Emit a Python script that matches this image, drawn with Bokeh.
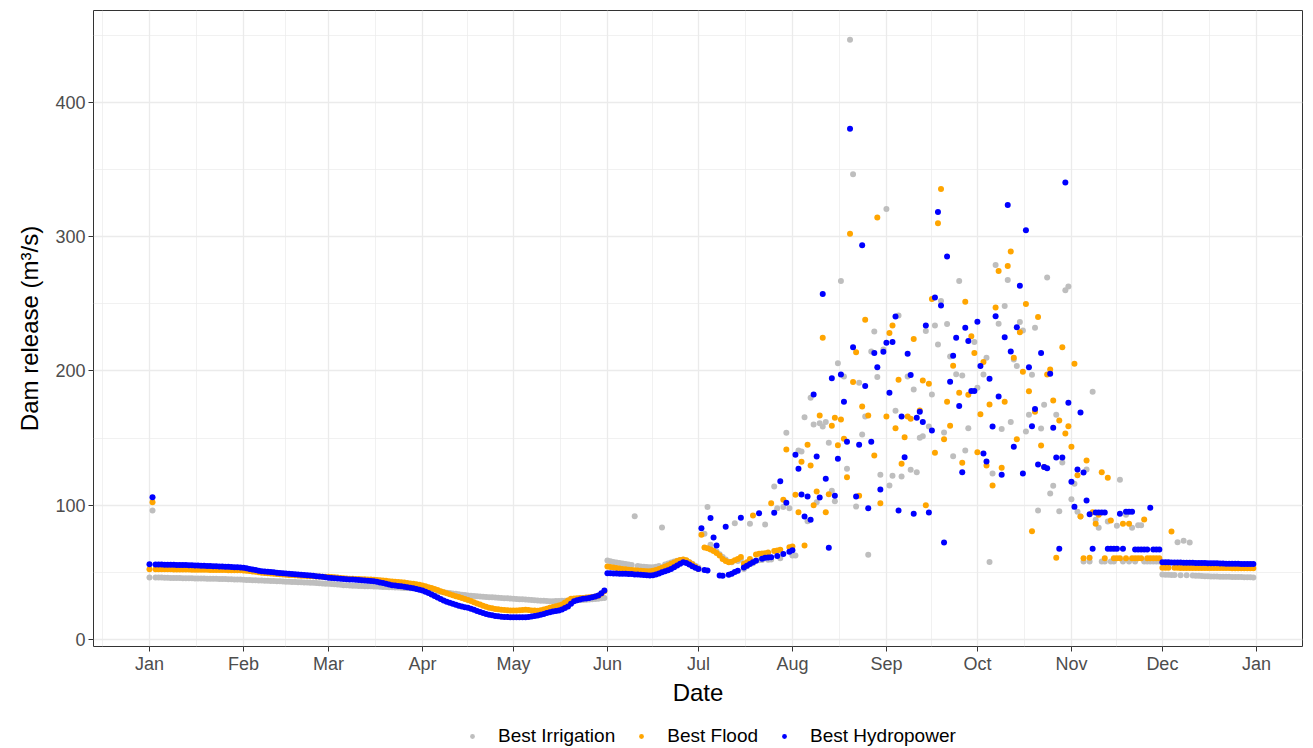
import numpy as np
from bokeh.plotting import figure
from bokeh.layouts import column
from bokeh.models import ColumnDataSource, FixedTicker, Legend, LegendItem, Range1d
from bokeh.embed import file_html
from bokeh.resources import INLINE

# ---- axis labels -----------------------------------------------------------
month_starts = [0, 31, 59, 90, 120, 151, 181, 212, 243, 273, 304, 334, 365]
month_names = ["Jan", "Feb", "Mar", "Apr", "May", "Jun", "Jul", "Aug",
               "Sep", "Oct", "Nov", "Dec", "Jan"]
y_ticks = [0, 100, 200, 300, 400]

series_names = ["Best Irrigation", "Best Flood", "Best Hydropower"]
series_colors = ["#BEBEBE", "#FFA500", "#0000FF"]

# ---- daily dam release (m3/s), Jan 1 .. May 31 -----------------------------
irr_jan_may = [
    46.2, 96.1,
    46.2, 46.1, 46.1, 46.0, 46.0, 45.9, 45.9, 45.8, 45.8,
    45.7, 45.7, 45.6, 45.6, 45.5, 45.5, 45.4, 45.4, 45.3, 45.3,
    45.2, 45.2, 45.1, 45.0, 45.0, 44.9, 44.8, 44.7, 44.7, 44.6,
    44.5, 44.4, 44.3, 44.2, 44.1, 44.0, 43.9, 43.8, 43.7, 43.6,
    43.5, 43.4, 43.3, 43.2, 43.1, 43.0, 42.9, 42.8, 42.7, 42.6,
    42.5, 42.4, 42.3, 42.2, 42.0, 41.9, 41.8, 41.6, 41.5, 41.3,
    41.1, 40.9, 40.7, 40.5, 40.4, 40.2, 40.1, 40.0, 39.9, 39.8,
    39.7, 39.6, 39.6, 39.5, 39.4, 39.3, 39.2, 39.1, 39.0, 38.9,
    38.8, 38.7, 38.5, 38.4, 38.3, 38.2, 38.1, 38.0, 37.9, 37.7,
    37.4, 37.0, 36.6, 36.2, 35.8, 35.5, 35.2, 34.9, 34.6, 34.3,
    34.0, 33.7, 33.4, 33.1, 32.8, 32.6, 32.4, 32.2, 32.0, 31.8,
    31.7, 31.5, 31.4, 31.2, 31.1, 31.0, 30.8, 30.7, 30.5, 30.3,
    30.2, 30.0, 29.9, 29.8, 29.6, 29.4, 29.2, 29.0, 28.9, 28.8,
    28.6, 28.5, 28.5, 28.6, 28.7, 28.8, 28.9, 29.0, 29.1, 29.2,
    29.3, 29.4, 29.5, 29.6, 29.8, 30.0, 30.2, 30.4, 30.7, 31.0,
]
flood_jan_may = [
    52.4, 102.3,
    52.4, 52.4, 52.4, 52.3, 52.3, 52.3, 52.2, 52.2, 52.2,
    52.1, 52.1, 52.1, 52.0, 52.0, 52.0, 51.9, 51.9, 51.9, 51.8,
    51.8, 51.8, 51.7, 51.7, 51.7, 51.6, 51.6, 51.5, 51.5, 51.5,
    51.4, 51.2, 51.0, 50.7, 50.4, 50.1, 49.8, 49.6, 49.4, 49.2,
    49.0, 48.8, 48.6, 48.4, 48.3, 48.1, 48.0, 47.8, 47.7, 47.5,
    47.4, 47.3, 47.2, 47.1, 47.0, 46.9, 46.8, 46.8, 46.7, 46.5,
    46.3, 46.1, 45.9, 45.7, 45.5, 45.3, 45.2, 45.1, 45.0, 44.9,
    44.8, 44.7, 44.6, 44.5, 44.3, 44.1, 43.9, 43.7, 43.4, 43.2,
    43.0, 42.9, 42.7, 42.4, 42.1, 41.8, 41.5, 41.1, 40.7, 40.2,
    39.6, 39.0, 38.3, 37.6, 36.9, 36.0, 35.2, 34.5, 33.8, 33.0,
    32.3, 31.6, 30.9, 30.2, 29.5, 28.6, 27.8, 26.9, 26.0, 25.2,
    24.4, 23.6, 23.2, 22.8, 22.5, 22.2, 22.0, 21.8, 21.7, 21.6,
    21.7, 21.8, 22.0, 22.1, 21.9, 21.7, 21.6, 21.5, 21.8, 22.3,
    22.9, 23.6, 24.2, 24.8, 25.4, 26.0, 27.5, 29.0, 30.3, 30.6,
    30.8, 30.9, 31.0, 31.2, 31.4, 31.7, 32.0, 32.5, 34.0, 36.0,
]
hydro_jan_may = [
    56.0, 106.0,
    55.9, 55.8, 55.8, 55.7, 55.7, 55.6, 55.6, 55.5, 55.5,
    55.4, 55.4, 55.3, 55.3, 55.2, 55.1, 55.0, 54.9, 54.8, 54.7,
    54.6, 54.5, 54.4, 54.3, 54.2, 54.1, 54.0, 53.9, 53.8, 53.6,
    53.4, 53.0, 52.6, 52.2, 51.7, 51.3, 50.9, 50.6, 50.4, 50.2,
    50.0, 49.8, 49.6, 49.4, 49.2, 49.0, 48.8, 48.6, 48.4, 48.2,
    48.0, 47.8, 47.6, 47.4, 47.2, 47.0, 46.7, 46.4, 46.0, 45.8,
    45.6, 45.4, 45.2, 45.0, 44.9, 44.7, 44.6, 44.5, 44.4, 44.2,
    44.0, 43.8, 43.6, 43.4, 43.0, 42.5, 42.0, 41.5, 41.0, 40.5,
    40.2, 39.9, 39.7, 39.3, 38.9, 38.5, 38.1, 37.6, 37.0, 36.5,
    35.6, 34.6, 33.5, 32.4, 31.2, 30.1, 29.0, 28.2, 27.4, 26.6,
    25.9, 25.2, 24.6, 24.0, 23.6, 22.9, 22.1, 21.3, 20.5, 19.7,
    19.0, 18.4, 18.0, 17.6, 17.3, 17.0, 16.8, 16.7, 16.6, 16.6,
    16.6, 16.6, 16.6, 16.6, 16.8, 17.1, 17.5, 17.9, 18.4, 19.0,
    19.7, 20.3, 20.8, 21.2, 21.6, 22.4, 23.5, 24.6, 26.6, 28.5,
    29.2, 29.8, 30.3, 30.6, 31.0, 31.5, 32.1, 32.8, 34.4, 36.5,
]

# ---- Jun 1 .. Nov 30 (None = no value shown) --------------------------------
irr_jun_nov = [
    58.8, 58.3, 57.8, 57.4, 57.0, 56.6, 56.2, 55.8, 55.4, 91.8,
    54.7, 54.4, 54.2, 54.0, 53.9, 53.9, 54.2, 54.7, 83.4, 55.8,
    56.6, 57.4, 58.1, 58.7, 59.2, 59.4, 58.8, 57.6, 56.4, 55.0, 53.6,
    None, 78.7, 98.6, 70.5, 66.5, 65.5,
    63.5, 61.5, 59.5, 58.0, 57.5, 86.6, 58.5, 59.5, 52.6, 54.5,
    86.2, 56.8, 58.8, 59.0, 59.2, 85.7, 59.4, 59.6, 114.0, 97.8,
    60.5, 98.6, 154.0, 97.8, 62.6, 62.6, 140.8, 140.0, 165.6, 88.0,
    180.0, 160.1, 102.3, 161.1, 158.7, 161.9, 146.5, 110.8, 103.0, 205.8,
    266.9, 195.9, 127.1, 446.7, 346.4, 99.0, 191.2, 152.7, 166.1, 63.1,
    214.5, 229.4, 195.4, 122.7, 216.0, 320.5, 114.7, 121.9, 170.3, 241.3,
    121.4, None, 195.9, 126.4, 186.2, 124.6, 150.2, 151.4, 229.7, 158.7,
    182.5, 233.9, 219.7, 252.0, 154.2, 234.9, 210.8, 136.5, 197.6, 266.9,
    196.6, 140.8, 157.4, None, 221.5, 187.5, None, 197.4, 209.8, 57.8,
    123.6, 278.8, 235.1, 156.7, 248.3, 267.7, 161.9, 208.5, 203.6, 236.4,
    230.2, 154.9, 167.4, 197.2, 232.2, 96.1, 157.2, 174.8, 269.6, 108.8,
    114.5, 167.4, 95.6, 131.8, 260.0, 262.9, 104.5, 116.0, 95.1, 91.6,
    58.1, 126.6, 58.1, 184.5, 89.2, 83.2, 58.1, 58.1, 87.9, 58.1,
    58.1, 84.7, 119.0, 58.1, 92.9, 58.1, 83.2, 58.1, 85.0, 85.0,
    58.1, 58.1, 58.1, 58.1, 58.1, 58.1,
]
flood_jun_nov = [
    54.4, 54.0, 53.6, 53.2, 52.9, 52.6, 52.3, 52.0, 51.8, 51.6,
    51.4, 51.2, 51.0, 50.9, 50.9, 51.2, 51.8, 52.6, 53.4, 54.3,
    55.3, 56.4, 57.4, 58.4, 59.2, 59.6, 59.0, 57.6, 56.0, 54.2, 52.6,
    78.0, 68.5, 68.0, 67.0, 66.0, 64.5,
    62.5, 60.0, 58.5, 57.6, 58.0, 59.0, 60.0, 61.5, 56.4, 57.6,
    60.0, 92.4, 63.3, 63.8, 64.0, 64.3, 64.8, 101.5, 66.0, 66.3,
    66.8, 104.0, 141.5, 68.8, 69.3, 107.8, 94.8, 132.4, 70.0, 145.0,
    129.6, 100.0, 110.2, 166.9, 224.7, 94.8, 108.2, 159.2, 165.1, 144.7,
    163.9, 149.5, 120.9, 302.2, 191.7, 214.0, 107.0, 173.6, 238.1, 166.9,
    None, 137.0, 314.3, 101.5, None, 166.1, 228.2, 233.9, 157.4, 193.4,
    130.9, 150.7, 166.1, 164.4, 223.7, None, 170.6, 192.9, 100.0, 190.4,
    253.5, 139.1, 310.0, 335.4, 149.2, 177.0, 159.2, 203.9, None, 183.8,
    131.6, 251.5, 182.3, 225.9, 213.3, 139.5, 167.8, 206.6, 129.6, 175.0,
    114.7, 247.3, 274.4, 127.9, 177.0, 278.1, 289.0, 209.8, 149.2, 228.9,
    199.4, 249.8, 184.9, 80.7, 169.6, 240.1, 144.5, 128.5, 197.4, 201.1,
    178.0, 60.8, 163.1, 217.7, 153.4, 158.9, 143.5, 205.4, 122.4, 91.6,
    60.6, 133.3, 60.8, 94.8, 86.2, 93.0, 124.6, 60.6, 120.4, 88.6,
    60.6, 60.6, 60.6, 86.2, 60.6, 86.2, 60.6, 60.6, 60.6, 60.6,
    89.4, 60.6, 60.6, 60.6, 60.6, 60.6,
]
hydro_jun_nov = [
    49.4, 49.3, 49.2, 49.1, 49.0, 49.0, 48.9, 48.8, 48.7, 48.5,
    48.4, 48.2, 48.0, 47.8, 47.7, 47.8, 48.4, 49.2, 50.0, 50.8,
    51.6, 52.6, 53.8, 55.1, 56.4, 57.6, 57.0, 55.8, 54.6, 53.4, 52.6,
    82.9, 51.8, 51.4, 90.4, 76.0, 70.0,
    47.7, 47.5, 84.0, 48.3, 49.0, 50.2, 51.2, 90.6, 53.6, 55.0,
    56.2, 57.6, 58.6, 94.1, 60.2, 60.9, 61.0, 61.2, 94.4, 62.2,
    117.9, 63.6, 101.8, 65.4, 66.5, 137.6, 127.1, 108.0, 91.6, 106.5,
    89.2, 182.5, 136.3, 105.8, 257.2, 119.7, 68.3, 194.6, 107.0, 134.6,
    197.4, 177.0, 147.2, 380.4, 217.7, 106.5, 145.0, 293.5, 188.7, 97.8,
    147.2, 213.3, 202.8, 111.7, 214.3, 221.0, 183.8, 221.5, 240.6, 96.1,
    166.1, 135.8, 212.8, 196.9, 93.6, 165.1, 169.6, 161.9, 233.9, 94.6,
    155.7, 254.7, 318.3, 248.8, 72.3, 285.3, 192.0, 211.3, 224.7, 173.8,
    124.6, 232.2, 222.2, 185.1, 185.1, 236.6, 203.6, 138.5, 132.6, 194.2,
    158.7, 240.8, 181.0, 122.7, 225.0, 323.5, 214.5, 143.5, 232.6, 263.4,
    123.6, 304.7, 202.8, 158.9, 171.6, 130.4, 213.3, 128.5, 127.5, 197.9,
    157.7, 135.6, 67.5, 135.6, 340.4, 176.3, 117.5, 98.8, 126.6, 169.1,
    124.4, 103.5, 93.3, 67.5, 94.6, 94.6, 94.6, 94.6, 67.5, 67.5,
    67.5, 67.5, 93.6, 67.5, 95.1, 95.1, 95.1, 67.0, 67.0, 67.0,
    67.0, 67.0, 98.1, 67.0, 67.0, 67.0,
]

# ---- Dec 1 .. Dec 31 --------------------------------------------------------
irr_dec = [
    48.4, 48.3, 48.2, 48.1, 48.0, 72.5, 47.9, 73.6, 47.8, 72.2,
    47.6, 47.5, 47.4, 47.3, 47.2, 47.1, 47.0, 46.9, 46.9, 46.8,
    46.8, 46.7, 46.7, 46.6, 46.6, 46.5, 46.5, 46.4, 46.4, 46.3, 46.2,
]
flood_dec = [
    53.4, 53.4, 53.4, 80.4, 53.4, 53.4, 53.3, 53.3, 53.3, 53.3,
    53.3, 53.3, 53.3, 53.3, 53.2, 53.2, 53.2, 53.2, 53.2, 53.2,
    53.2, 53.2, 53.2, 53.1, 53.1, 53.1, 53.1, 53.1, 53.1, 53.1, 53.1,
]
hydro_dec = [
    57.6, 57.5, 57.5, 57.4, 57.4, 57.3, 57.3, 57.2, 57.2, 57.1,
    57.1, 57.0, 57.0, 56.9, 56.9, 56.8, 56.8, 56.7, 56.7, 56.6,
    56.6, 56.5, 56.5, 56.5, 56.4, 56.4, 56.3, 56.3, 56.3, 56.2, 56.2,
]


def daily_source(*parts):
    """Join the seasonal pieces into one daily series (day 0 = Jan 1)."""
    values = [v for part in parts for v in part]
    days = [d for d, v in enumerate(values) if v is not None]
    return ColumnDataSource(dict(day=days, release=[v for v in values if v is not None]))


sources = [
    daily_source(irr_jan_may, irr_jun_nov, irr_dec),
    daily_source(flood_jan_may, flood_jun_nov, flood_dec),
    daily_source(hydro_jan_may, hydro_jun_nov, hydro_dec),
]

FONT = "Liberation Sans"
W = 1313
PLOT_H = 720
LEGEND_H = 28
POINT_SIZE = 6

p = figure(
    width=W, height=PLOT_H,
    output_backend="svg", toolbar_location=None,
    x_range=Range1d(-18.46, 380.2), y_range=Range1d(-5.2, 468.4),
    min_border_left=93, min_border_right=11, min_border_top=10, min_border_bottom=74,
    background_fill_color="white", border_fill_color="white",
)
p.outline_line_color = "#333333"
p.outline_line_width = 1

# month ticks, with minor grid halfway between month starts
x_minor = [-15.5] + [(a + b) / 2 for a, b in zip(month_starts[:-1], month_starts[1:])]
p.xaxis.ticker = FixedTicker(ticks=month_starts, minor_ticks=[])
p.xgrid.ticker = FixedTicker(ticks=month_starts, minor_ticks=x_minor)
p.xaxis.major_label_overrides = {d: n for d, n in zip(month_starts, month_names)}
p.yaxis.ticker = FixedTicker(ticks=y_ticks, minor_ticks=[])
p.ygrid.ticker = FixedTicker(ticks=y_ticks, minor_ticks=[50, 150, 250, 350, 450])

for g in (p.xgrid, p.ygrid):
    g.grid_line_color = "#EBEBEB"
    g.grid_line_width = 1.3
    g.minor_grid_line_color = "#EBEBEB"
    g.minor_grid_line_width = 0.7

for ax in (p.xaxis, p.yaxis):
    ax.axis_line_color = None
    ax.major_tick_line_color = "#333333"
    ax.major_tick_line_width = 1
    ax.major_tick_out = 5
    ax.major_tick_in = 0
    ax.minor_tick_line_color = None
    ax.major_label_text_font = FONT
    ax.major_label_text_font_size = "18px"
    ax.major_label_text_color = "#4D4D4D"
    ax.axis_label_text_font = FONT
    ax.axis_label_text_font_size = "24px"
    ax.axis_label_text_font_style = "normal"
    ax.axis_label_text_color = "black"

p.xaxis.axis_label = "Date"
p.xaxis.major_label_standoff = 2
p.xaxis.axis_label_standoff = 2
p.yaxis.axis_label = "Dam release (m³/s)"
p.yaxis.major_label_standoff = 3
p.yaxis.axis_label_standoff = 9

renderers = []
for src, color in zip(sources, series_colors):
    r = p.scatter("day", "release", source=src, size=POINT_SIZE,
                  fill_color=color, line_color=None)
    renderers.append(r)

# legend strip under the plot; its view range is empty, so only the keys show
key = figure(
    width=W, height=LEGEND_H,
    output_backend="svg", toolbar_location=None,
    x_range=Range1d(1000, 1001), y_range=Range1d(1000, 1001),
    x_axis_location=None, y_axis_location=None,
    min_border_left=0, min_border_right=0, min_border_top=0, min_border_bottom=0,
    background_fill_color="white", border_fill_color="white",
)
key.outline_line_color = None
key.xgrid.visible = False
key.ygrid.visible = False
key_renderers = [
    key.scatter("day", "release", source=src, size=POINT_SIZE,
                fill_color=c, line_color=None)
    for src, c in zip(sources, series_colors)
]
# the strip's frame lines up with the plot frame (x = 93 px)
legend = Legend(
    items=[LegendItem(label=n, renderers=[r]) for n, r in zip(series_names, key_renderers)],
    orientation="horizontal",
    location=(373, 1),
    border_line_color=None,
    background_fill_alpha=0,
    padding=0, margin=0, spacing=20,
    glyph_width=12, glyph_height=20, label_height=20,
    label_standoff=20,
    label_text_font=FONT, label_text_font_size="19px", label_text_color="black",
)
key.add_layout(legend)

layout = column(p, key, spacing=0)
open("out.html", "w").write(file_html(layout, INLINE))
